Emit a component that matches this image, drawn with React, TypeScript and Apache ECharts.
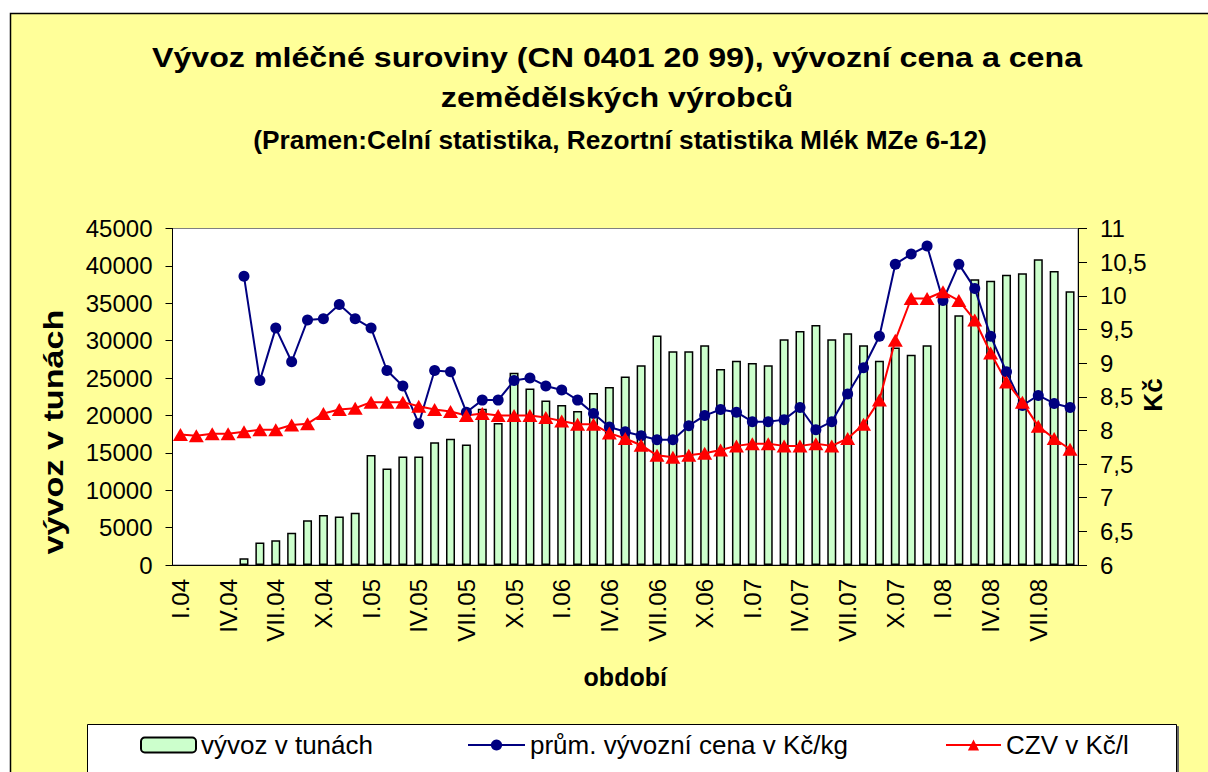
import React, { useEffect, useRef } from 'react';
import * as echarts from 'echarts';

const FONT = '"Liberation Sans", Arial, sans-serif';

const months = [
  'I.04', 'II.04', 'III.04', 'IV.04', 'V.04', 'VI.04', 'VII.04', 'VIII.04', 'IX.04', 'X.04', 'XI.04', 'XII.04',
  'I.05', 'II.05', 'III.05', 'IV.05', 'V.05', 'VI.05', 'VII.05', 'VIII.05', 'IX.05', 'X.05', 'XI.05', 'XII.05',
  'I.06', 'II.06', 'III.06', 'IV.06', 'V.06', 'VI.06', 'VII.06', 'VIII.06', 'IX.06', 'X.06', 'XI.06', 'XII.06',
  'I.07', 'II.07', 'III.07', 'IV.07', 'V.07', 'VI.07', 'VII.07', 'VIII.07', 'IX.07', 'X.07', 'XI.07', 'XII.07',
  'I.08', 'II.08', 'III.08', 'IV.08', 'V.08', 'VI.08', 'VII.08', 'VIII.08', 'IX.08',
];

// vývoz v tunách
const exportTons = [
  null, null, null, null, 900, 3000, 3300, 4300, 6000, 6700, 6500, 7000,
  14700, 12900, 14500, 14500, 16400, 16900, 16100, 20900, 19000, 25700, 23600, 22000,
  21400, 20600, 23000, 23800, 25200, 26700, 30700, 28600, 28600, 29400, 26200, 27300,
  27000, 26700, 30200, 31300, 32100, 30200, 31000, 29400, 27300, 29100, 28100, 29400,
  35600, 33400, 38200, 38000, 38800, 39000, 40900, 39300, 36600,
];

// prům. vývozní cena v Kč/kg
const exportPrice = [
  null, null, null, null, 10.29, 8.74, 9.52, 9.02, 9.64, 9.66, 9.87, 9.66,
  9.52, 8.89, 8.66, 8.10, 8.89, 8.87, 8.27, 8.45, 8.45, 8.74, 8.78, 8.66,
  8.60, 8.45, 8.25, 8.05, 7.98, 7.92, 7.86, 7.86, 8.07, 8.22, 8.31, 8.27,
  8.13, 8.13, 8.16, 8.34, 8.01, 8.13, 8.54, 8.93, 9.40, 10.47, 10.62, 10.74,
  9.93, 10.47, 10.11, 9.40, 8.87, 8.37, 8.52, 8.40, 8.34,
];

// CZV v Kč/l
const farmPrice = [
  7.94, 7.92, 7.95, 7.95, 7.98, 8.01, 8.01, 8.08, 8.10, 8.25, 8.31, 8.33,
  8.42, 8.42, 8.42, 8.36, 8.31, 8.28, 8.22, 8.25, 8.22, 8.22, 8.22, 8.19,
  8.14, 8.09, 8.09, 7.96, 7.88, 7.78, 7.63, 7.60, 7.63, 7.66, 7.71, 7.77,
  7.80, 7.80, 7.77, 7.77, 7.80, 7.77, 7.88, 8.09, 8.45, 9.34, 9.96, 9.96,
  10.06, 9.93, 9.64, 9.15, 8.72, 8.42, 8.06, 7.88, 7.72,
];

const seriesNames = ['vývoz v tunách', 'prům. vývozní cena v Kč/kg', 'CZV v Kč/l'];
const titleLine1 = 'Vývoz mléčné suroviny (CN 0401 20 99), vývozní cena a cena';
const titleLine2 = 'zemědělských výrobců';
const subTitle = '(Pramen:Celní statistika, Rezortní statistika Mlék MZe 6-12)';

export default function App() {
  const ref = useRef<HTMLDivElement>(null);
  useEffect(() => {
    const chart = echarts.init(ref.current!, null, { renderer: 'svg' });
    const legendText = { fontSize: 26, color: '#000', fontFamily: FONT };
    chart.setOption({
      animation: false,
      backgroundColor: '#ffffff',
      textStyle: { fontFamily: FONT },
      graphic: [
        {
          type: 'rect', z: -100, silent: true,
          shape: { x: 10.5, y: 13.5, width: 1230, height: 800 },
          style: { fill: '#FFFF99', stroke: '#000', lineWidth: 1.5 },
        },
        {
          type: 'rect', z: -50, silent: true,
          shape: { x: 87.5, y: 724.5, width: 1089, height: 70 },
          style: { fill: '#fff', stroke: '#000', lineWidth: 1, shadowColor: '#666', shadowOffsetX: 2, shadowOffsetY: 2, shadowBlur: 0 },
        },
        {
          type: 'text', x: 617, y: 57, scaleX: 1.15,
          style: { text: titleLine1, font: `bold 28px ${FONT}`, fill: '#000', align: 'center', verticalAlign: 'middle' },
        },
        {
          type: 'text', x: 617, y: 97, scaleX: 1.15,
          style: { text: titleLine2, font: `bold 28px ${FONT}`, fill: '#000', align: 'center', verticalAlign: 'middle' },
        },
        {
          type: 'text', x: 620, y: 140, scaleX: 1.05,
          style: { text: subTitle, font: `bold 25px ${FONT}`, fill: '#000', align: 'center', verticalAlign: 'middle' },
        },
        {
          type: 'text', x: 54, y: 432, rotation: Math.PI / 2, scaleX: 1.22,
          style: { text: 'vývoz v tunách', font: `bold 28px ${FONT}`, fill: '#000', align: 'center', verticalAlign: 'middle' },
        },
        {
          type: 'text', x: 1153, y: 395, rotation: Math.PI / 2,
          style: { text: 'Kč', font: `bold 26px ${FONT}`, fill: '#000', align: 'center', verticalAlign: 'middle' },
        },
      ],
      legend: [
        { data: [seriesNames[0]], left: 140, top: 732, itemWidth: 55, itemHeight: 15, padding: 0, selectedMode: false, textStyle: legendText },
        { data: [seriesNames[1]], left: 467, top: 732, itemWidth: 57, itemHeight: 14, padding: 0, selectedMode: false, textStyle: legendText },
        { data: [seriesNames[2]], left: 945, top: 732, itemWidth: 55, itemHeight: 14, padding: 0, selectedMode: false, textStyle: legendText },
      ],
      grid: {
        left: 172.5, right: 130, top: 228.5, bottom: 207,
        show: true, backgroundColor: '#ffffff', borderColor: '#808080', borderWidth: 1,
      },
      xAxis: {
        type: 'category',
        data: months,
        boundaryGap: true,
        axisLine: { lineStyle: { color: '#000', width: 1 } },
        axisTick: { interval: 0, length: 7, lineStyle: { color: '#000' } },
        axisLabel: { interval: 2, rotate: 90, fontSize: 24, color: '#000', margin: 14, fontFamily: FONT },
        name: 'období',
        nameLocation: 'middle',
        nameGap: 99,
        nameTextStyle: { fontSize: 25, fontWeight: 'bold', color: '#000', fontFamily: FONT },
      },
      yAxis: [
        {
          type: 'value', min: 0, max: 45000, interval: 5000, position: 'left',
          axisLine: { show: true, lineStyle: { color: '#000' } },
          axisTick: { show: true, length: 7, lineStyle: { color: '#000' } },
          axisLabel: {
            fontSize: 24, color: '#000', margin: 20, fontFamily: FONT,
            formatter: (v: number) => String(v),
          },
          splitLine: { show: false },
        },
        {
          type: 'value', min: 6, max: 11, interval: 0.5, position: 'right',
          axisLine: { show: true, lineStyle: { color: '#000' } },
          axisTick: { show: true, length: 9, lineStyle: { color: '#000' } },
          axisLabel: {
            fontSize: 24, color: '#000', margin: 22, fontFamily: FONT,
            formatter: (v: number) => String(v).replace('.', ','),
          },
          splitLine: { show: false },
        },
      ],
      series: [
        {
          type: 'bar', name: seriesNames[0], data: exportTons, yAxisIndex: 0, barWidth: 9,
          itemStyle: { color: '#CCFFCC', borderColor: '#000', borderWidth: 1.5 },
        },
        {
          type: 'line', name: seriesNames[1], data: exportPrice, yAxisIndex: 1,
          symbol: 'circle', symbolSize: 11, showAllSymbol: true,
          lineStyle: { color: '#000080', width: 2 }, itemStyle: { color: '#000080' },
        },
        {
          type: 'line', name: seriesNames[2], data: farmPrice, yAxisIndex: 1,
          symbol: 'triangle', symbolSize: [15, 13], showAllSymbol: true,
          lineStyle: { color: '#FF0000', width: 2 }, itemStyle: { color: '#FF0000' },
        },
      ],
    });
    return () => chart.dispose();
  }, []);
  return <div ref={ref} style={{ position: 'fixed', left: 0, top: 0, width: 1208, height: 772 }} />;
}
